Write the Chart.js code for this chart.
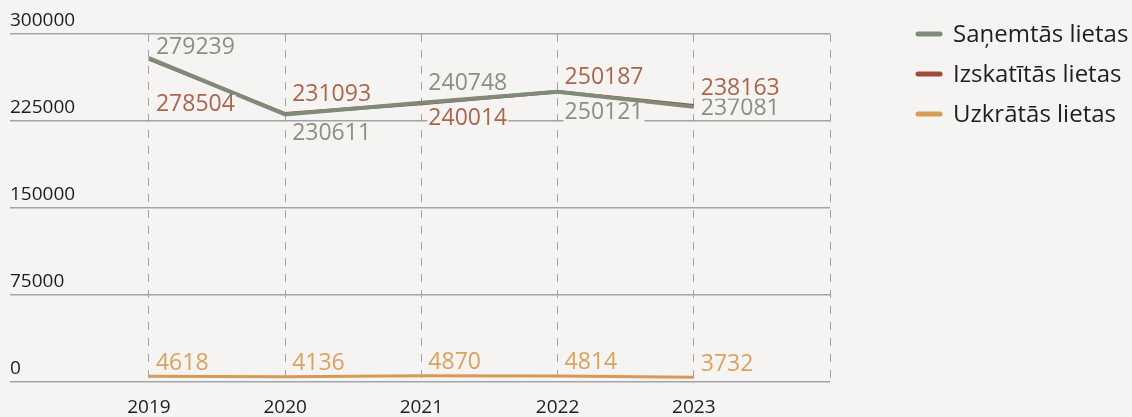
<!DOCTYPE html>
<html>
<head>
<meta charset="utf-8">
<script src="https://cdn.jsdelivr.net/npm/chart.js@4"></script>
<style>
  html, body { margin: 0; padding: 0; background: #f5f4f2; }
  canvas { display: block; }
</style>
</head>
<body>
<canvas id="c" width="1132" height="417"></canvas>
<script>
// ---- data ----
const categories = ['2019', '2020', '2021', '2022', '2023'];
const seriesNames = ['Saņemtās lietas', 'Izskatītās lietas', 'Uzkrātās lietas'];
const received = [279239, 230611, 240748, 250121, 237081];
const reviewed = [278504, 231093, 240014, 250187, 238163];
const accumulated = [4618, 4136, 4870, 4814, 3732];
const yTicks = [0, 75000, 150000, 225000, 300000];

// ---- style ----
const BG = '#f5f4f2';
const lineColors = ['#7f8a78', '#9d4c3b', '#d59b56'];
const labelColors = ['#8a8f80', '#a9664b', '#d9a25e'];
const lineWidths = [4, 3.5, 3];
// vertical offsets (px) of each value label centre from its point
const labelDy = [
  [-11, 19, -19, 21, 2],
  [46, -19, 15, -14, -17],
  [-13, -13, -13, -13, -13]
];
const FONT = '"Open Sans", "Noto Sans", sans-serif';

const years = categories.map(c => parseInt(c, 10));
const toPts = arr => arr.map((v, i) => ({ x: years[i], y: v }));

const valueLabels = {
  id: 'valueLabels',
  afterDatasetsDraw(chart) {
    const ctx = chart.ctx;
    ctx.save();
    ctx.font = '23px ' + FONT;
    ctx.textAlign = 'left';
    ctx.textBaseline = 'middle';
    chart.data.datasets.forEach((ds, i) => {
      const meta = chart.getDatasetMeta(i);
      meta.data.forEach((pt, j) => {
        const txt = String(ds.data[j].y);
        const x = pt.x + 7;
        const y = pt.y + labelDy[i][j];
        const w = ctx.measureText(txt).width;
        ctx.fillStyle = BG;
        ctx.fillRect(x - 1, y - 10, w + 2, 20);
        ctx.fillStyle = labelColors[i];
        ctx.fillText(txt, x, y);
      });
    });
    ctx.restore();
  }
};

const sideLegend = {
  id: 'sideLegend',
  afterDraw(chart) {
    const ctx = chart.ctx;
    ctx.save();
    ctx.font = '24px ' + FONT;
    ctx.textBaseline = 'middle';
    ctx.textAlign = 'left';
    chart.data.datasets.forEach((ds, i) => {
      const y = 34 + i * 40;
      ctx.strokeStyle = lineColors[i];
      ctx.lineWidth = 5;
      ctx.lineCap = 'round';
      ctx.beginPath();
      ctx.moveTo(918, y);
      ctx.lineTo(940, y);
      ctx.stroke();
      ctx.fillStyle = '#1e1e1e';
      ctx.fillText(ds.label, 953, y + 1);
    });
    ctx.restore();
  }
};

const datasets = [received, reviewed, accumulated].map((arr, i) => ({
  label: seriesNames[i],
  data: toPts(arr),
  borderColor: lineColors[i],
  backgroundColor: lineColors[i],
  borderWidth: lineWidths[i],
  pointRadius: 0,
  pointHoverRadius: 0,
  tension: 0,
  fill: false
}));

new Chart(document.getElementById('c'), {
  type: 'line',
  data: { datasets },
  plugins: [valueLabels, sideLegend],
  options: {
    responsive: false,
    animation: false,
    events: [],
    layout: { padding: { left: 10, right: 302, top: 34, bottom: 0 } },
    plugins: { legend: { display: false }, tooltip: { enabled: false } },
    scales: {
      x: {
        type: 'linear',
        min: years[0] - 1.02,
        max: years[years.length - 1] + 1,
        afterBuildTicks(scale) {
          const t = years.concat([years[years.length - 1] + 1]);
          scale.ticks = t.map(v => ({ value: v }));
        },
        afterFit(scale) { scale.height = 35.5; },
        ticks: {
          padding: 17,
          color: '#1e1e1e',
          font: { family: FONT, size: 19, lineHeight: 1 },
          callback: (v) => categories.includes(String(v)) ? String(v) : ''
        },
        grid: { color: '#a3a3a3', lineWidth: 1, drawTicks: false },
        border: { display: false, dash: [8, 8] }
      },
      y: {
        min: 0,
        max: 300000,
        afterBuildTicks(scale) { scale.ticks = yTicks.map(v => ({ value: v })); },
        ticks: {
          mirror: true,
          padding: 0,
          labelOffset: -13,
          color: '#1e1e1e',
          font: { family: FONT, size: 19 },
          callback: v => String(v)
        },
        grid: { color: '#a2a4a8', lineWidth: 1.5, drawTicks: false },
        border: { display: false }
      }
    }
  }
});
</script>
</body>
</html>
